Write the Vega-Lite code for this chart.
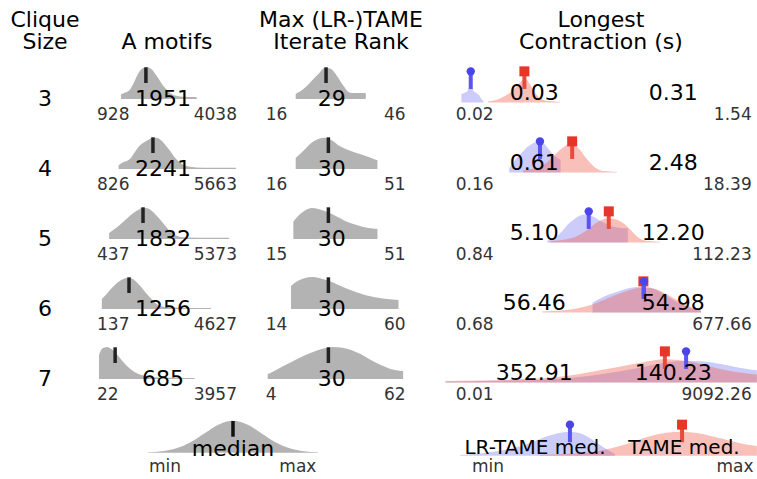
{
"$schema":"https://vega.github.io/schema/vega-lite/v6.json",
"padding":{"top":9,"left":0,"right":0,"bottom":0},
"background":"white",
"config":{"view":{"stroke":null},"font":"DejaVu Sans","title":{"font":"DejaVu Sans","fontSize":22,"fontWeight":"normal","color":"black","baseline":"bottom","lineHeight":22,"offset":10,"anchor":"middle"}},
"datasets":{
"sizes":[{"size":3},{"size":4},{"size":5},{"size":6},{"size":7}],
"motifs":[
{"size":3,"kind":"d","v":928,"d":0.15},{"size":3,"kind":"d","v":1100,"d":0.2},{"size":3,"kind":"d","v":1300,"d":0.3},{"size":3,"kind":"d","v":1450,"d":0.5},{"size":3,"kind":"d","v":1626,"d":0.78},{"size":3,"kind":"d","v":1800,"d":0.95},{"size":3,"kind":"d","v":1984,"d":1.0},{"size":3,"kind":"d","v":2150,"d":0.95},{"size":3,"kind":"d","v":2325,"d":0.8},{"size":3,"kind":"d","v":2500,"d":0.6},{"size":3,"kind":"d","v":2654,"d":0.42},{"size":3,"kind":"d","v":2830,"d":0.27},{"size":3,"kind":"d","v":3012,"d":0.16},{"size":3,"kind":"d","v":3200,"d":0.1},{"size":3,"kind":"d","v":3500,"d":0.07},{"size":3,"kind":"d","v":4038,"d":0.06},
{"size":3,"kind":"s","med":1951,"medLabel":"1951","minLabel":"928","maxLabel":"4038"},
{"size":4,"kind":"d","v":826,"d":0.12},{"size":4,"kind":"d","v":1000,"d":0.2},{"size":4,"kind":"d","v":1296,"d":0.31},{"size":4,"kind":"d","v":1470,"d":0.5},{"size":4,"kind":"d","v":1638,"d":0.68},{"size":4,"kind":"d","v":1984,"d":0.88},{"size":4,"kind":"d","v":2255,"d":0.98},{"size":4,"kind":"d","v":2420,"d":0.97},{"size":4,"kind":"d","v":2601,"d":0.88},{"size":4,"kind":"d","v":2780,"d":0.72},{"size":4,"kind":"d","v":2942,"d":0.57},{"size":4,"kind":"d","v":3150,"d":0.35},{"size":4,"kind":"d","v":3354,"d":0.2},{"size":4,"kind":"d","v":3550,"d":0.11},{"size":4,"kind":"d","v":3765,"d":0.07},{"size":4,"kind":"d","v":4300,"d":0.04},{"size":4,"kind":"d","v":5000,"d":0.04},{"size":4,"kind":"d","v":5663,"d":0.04},
{"size":4,"kind":"s","med":2241,"medLabel":"2241","minLabel":"826","maxLabel":"5663"},
{"size":5,"kind":"d","v":437,"d":0.19},{"size":5,"kind":"d","v":749,"d":0.36},{"size":5,"kind":"d","v":1021,"d":0.54},{"size":5,"kind":"d","v":1296,"d":0.73},{"size":5,"kind":"d","v":1572,"d":0.88},{"size":5,"kind":"d","v":1844,"d":0.98},{"size":5,"kind":"d","v":2049,"d":0.95},{"size":5,"kind":"d","v":2220,"d":0.86},{"size":5,"kind":"d","v":2395,"d":0.73},{"size":5,"kind":"d","v":2600,"d":0.55},{"size":5,"kind":"d","v":2807,"d":0.36},{"size":5,"kind":"d","v":3000,"d":0.2},{"size":5,"kind":"d","v":3218,"d":0.1},{"size":5,"kind":"d","v":3600,"d":0.05},{"size":5,"kind":"d","v":4500,"d":0.04},{"size":5,"kind":"d","v":5373,"d":0.04},
{"size":5,"kind":"s","med":1832,"medLabel":"1832","minLabel":"437","maxLabel":"5373"},
{"size":6,"kind":"d","v":137,"d":0.31},{"size":6,"kind":"d","v":337,"d":0.47},{"size":6,"kind":"d","v":609,"d":0.7},{"size":6,"kind":"d","v":885,"d":0.88},{"size":6,"kind":"d","v":1160,"d":0.97},{"size":6,"kind":"d","v":1366,"d":0.95},{"size":6,"kind":"d","v":1540,"d":0.86},{"size":6,"kind":"d","v":1708,"d":0.73},{"size":6,"kind":"d","v":1900,"d":0.55},{"size":6,"kind":"d","v":2119,"d":0.36},{"size":6,"kind":"d","v":2300,"d":0.22},{"size":6,"kind":"d","v":2461,"d":0.12},{"size":6,"kind":"d","v":2800,"d":0.06},{"size":6,"kind":"d","v":3500,"d":0.04},{"size":6,"kind":"d","v":4627,"d":0.03},
{"size":6,"kind":"s","med":1256,"medLabel":"1256","minLabel":"137","maxLabel":"4627"},
{"size":7,"kind":"d","v":22,"d":0.75},{"size":7,"kind":"d","v":150,"d":0.95},{"size":7,"kind":"d","v":350,"d":1.0},{"size":7,"kind":"d","v":550,"d":0.93},{"size":7,"kind":"d","v":750,"d":0.78},{"size":7,"kind":"d","v":1000,"d":0.55},{"size":7,"kind":"d","v":1300,"d":0.32},{"size":7,"kind":"d","v":1600,"d":0.17},{"size":7,"kind":"d","v":2000,"d":0.08},{"size":7,"kind":"d","v":2500,"d":0.05},{"size":7,"kind":"d","v":3200,"d":0.04},{"size":7,"kind":"d","v":3957,"d":0.03},
{"size":7,"kind":"s","med":685,"medLabel":"685","minLabel":"22","maxLabel":"3957"}
],
"ranks":[
{"size":3,"kind":"d","v":16,"d":0.16},{"size":3,"kind":"d","v":19.3,"d":0.31},{"size":3,"kind":"d","v":22.9,"d":0.57},{"size":3,"kind":"d","v":25.7,"d":0.78},{"size":3,"kind":"d","v":28.6,"d":0.98},{"size":3,"kind":"d","v":30.8,"d":0.95},{"size":3,"kind":"d","v":33.6,"d":0.73},{"size":3,"kind":"d","v":36.4,"d":0.42},{"size":3,"kind":"d","v":38.5,"d":0.22},{"size":3,"kind":"d","v":40,"d":0.19},{"size":3,"kind":"d","v":43,"d":0.19},{"size":3,"kind":"d","v":46,"d":0.19},
{"size":3,"kind":"s","med":29,"medLabel":"29","minLabel":"16","maxLabel":"46"},
{"size":4,"kind":"d","v":16,"d":0.34},{"size":4,"kind":"d","v":19.3,"d":0.57},{"size":4,"kind":"d","v":22.9,"d":0.83},{"size":4,"kind":"d","v":25.7,"d":0.94},{"size":4,"kind":"d","v":28.6,"d":0.98},{"size":4,"kind":"d","v":31.4,"d":0.9},{"size":4,"kind":"d","v":35,"d":0.71},{"size":4,"kind":"d","v":39.3,"d":0.57},{"size":4,"kind":"d","v":43.5,"d":0.47},{"size":4,"kind":"d","v":47.8,"d":0.36},{"size":4,"kind":"d","v":51,"d":0.27},
{"size":4,"kind":"s","med":30,"medLabel":"30","minLabel":"16","maxLabel":"51"},
{"size":5,"kind":"d","v":15,"d":0.54},{"size":5,"kind":"d","v":17.9,"d":0.78},{"size":5,"kind":"d","v":20.7,"d":0.92},{"size":5,"kind":"d","v":22.9,"d":0.97},{"size":5,"kind":"d","v":25.7,"d":0.94},{"size":5,"kind":"d","v":30,"d":0.83},{"size":5,"kind":"d","v":34.2,"d":0.68},{"size":5,"kind":"d","v":38.5,"d":0.52},{"size":5,"kind":"d","v":42.8,"d":0.42},{"size":5,"kind":"d","v":47.1,"d":0.34},{"size":5,"kind":"d","v":51,"d":0.31},
{"size":5,"kind":"s","med":30,"medLabel":"30","minLabel":"15","maxLabel":"51"},
{"size":6,"kind":"d","v":14,"d":0.72},{"size":6,"kind":"d","v":17,"d":0.88},{"size":6,"kind":"d","v":20,"d":0.97},{"size":6,"kind":"d","v":23,"d":1.0},{"size":6,"kind":"d","v":26,"d":0.97},{"size":6,"kind":"d","v":30,"d":0.88},{"size":6,"kind":"d","v":34,"d":0.76},{"size":6,"kind":"d","v":38,"d":0.63},{"size":6,"kind":"d","v":42,"d":0.52},{"size":6,"kind":"d","v":46,"d":0.43},{"size":6,"kind":"d","v":50,"d":0.37},{"size":6,"kind":"d","v":55,"d":0.31},{"size":6,"kind":"d","v":60,"d":0.28},
{"size":6,"kind":"s","med":30,"medLabel":"30","minLabel":"14","maxLabel":"60"},
{"size":7,"kind":"d","v":4,"d":0.15},{"size":7,"kind":"d","v":8,"d":0.3},{"size":7,"kind":"d","v":12,"d":0.45},{"size":7,"kind":"d","v":16,"d":0.6},{"size":7,"kind":"d","v":20,"d":0.74},{"size":7,"kind":"d","v":24,"d":0.86},{"size":7,"kind":"d","v":28,"d":0.95},{"size":7,"kind":"d","v":32,"d":1.0},{"size":7,"kind":"d","v":36,"d":0.98},{"size":7,"kind":"d","v":40,"d":0.9},{"size":7,"kind":"d","v":44,"d":0.77},{"size":7,"kind":"d","v":48,"d":0.6},{"size":7,"kind":"d","v":52,"d":0.45},{"size":7,"kind":"d","v":56,"d":0.33},{"size":7,"kind":"d","v":62,"d":0.25},
{"size":7,"kind":"s","med":30,"medLabel":"30","minLabel":"4","maxLabel":"62"}
],
"contr":[
{"size":3,"kind":"d","alg":"L","v":0.02,"d":0.26},{"size":3,"kind":"d","alg":"L","v":0.023,"d":0.3},{"size":3,"kind":"d","alg":"L","v":0.026,"d":0.36},{"size":3,"kind":"d","alg":"L","v":0.028,"d":0.5},{"size":3,"kind":"d","alg":"L","v":0.03,"d":0.62},{"size":3,"kind":"d","alg":"L","v":0.032,"d":0.5},{"size":3,"kind":"d","alg":"L","v":0.034,"d":0.36},{"size":3,"kind":"d","alg":"L","v":0.038,"d":0.3},{"size":3,"kind":"d","alg":"L","v":0.043,"d":0.22},{"size":3,"kind":"d","alg":"L","v":0.048,"d":0.1},{"size":3,"kind":"d","alg":"L","v":0.053,"d":0.02},
{"size":3,"kind":"d","alg":"T","v":0.063,"d":0.03},{"size":3,"kind":"d","alg":"T","v":0.086,"d":0.07},{"size":3,"kind":"d","alg":"T","v":0.107,"d":0.12},{"size":3,"kind":"d","alg":"T","v":0.133,"d":0.2},{"size":3,"kind":"d","alg":"T","v":0.166,"d":0.3},{"size":3,"kind":"d","alg":"T","v":0.206,"d":0.45},{"size":3,"kind":"d","alg":"T","v":0.256,"d":0.62},{"size":3,"kind":"d","alg":"T","v":0.3,"d":0.72},{"size":3,"kind":"d","alg":"T","v":0.33,"d":0.72},{"size":3,"kind":"d","alg":"T","v":0.4,"d":0.55},{"size":3,"kind":"d","alg":"T","v":0.49,"d":0.3},{"size":3,"kind":"d","alg":"T","v":0.61,"d":0.14},{"size":3,"kind":"d","alg":"T","v":0.76,"d":0.06},{"size":3,"kind":"d","alg":"T","v":0.95,"d":0.04},{"size":3,"kind":"d","alg":"T","v":1.2,"d":0.03},{"size":3,"kind":"d","alg":"T","v":1.46,"d":0.02},
{"size":3,"kind":"s","lr":0.03,"tame":0.31,"lrLabel":"0.03","tameLabel":"0.31","minLabel":"0.02","maxLabel":"1.54"},
{"size":4,"kind":"d","alg":"L","v":0.16,"d":0.12},{"size":4,"kind":"d","alg":"L","v":0.19,"d":0.3},{"size":4,"kind":"d","alg":"L","v":0.22,"d":0.45},{"size":4,"kind":"d","alg":"L","v":0.28,"d":0.62},{"size":4,"kind":"d","alg":"L","v":0.34,"d":0.78},{"size":4,"kind":"d","alg":"L","v":0.4,"d":0.86},{"size":4,"kind":"d","alg":"L","v":0.5,"d":0.94},{"size":4,"kind":"d","alg":"L","v":0.61,"d":0.96},{"size":4,"kind":"d","alg":"L","v":0.72,"d":0.9},{"size":4,"kind":"d","alg":"L","v":0.87,"d":0.75},{"size":4,"kind":"d","alg":"L","v":1.1,"d":0.55},{"size":4,"kind":"d","alg":"L","v":1.3,"d":0.45},{"size":4,"kind":"d","alg":"L","v":1.5,"d":0.4},
{"size":4,"kind":"d","alg":"T","v":0.29,"d":0.06},{"size":4,"kind":"d","alg":"T","v":0.4,"d":0.1},{"size":4,"kind":"d","alg":"T","v":0.5,"d":0.13},{"size":4,"kind":"d","alg":"T","v":0.61,"d":0.18},{"size":4,"kind":"d","alg":"T","v":0.76,"d":0.27},{"size":4,"kind":"d","alg":"T","v":0.95,"d":0.4},{"size":4,"kind":"d","alg":"T","v":1.17,"d":0.55},{"size":4,"kind":"d","alg":"T","v":1.46,"d":0.7},{"size":4,"kind":"d","alg":"T","v":1.8,"d":0.82},{"size":4,"kind":"d","alg":"T","v":2.25,"d":0.88},{"size":4,"kind":"d","alg":"T","v":2.5,"d":0.88},{"size":4,"kind":"d","alg":"T","v":2.8,"d":0.84},{"size":4,"kind":"d","alg":"T","v":3.5,"d":0.7},{"size":4,"kind":"d","alg":"T","v":4.3,"d":0.5},{"size":4,"kind":"d","alg":"T","v":5.4,"d":0.3},{"size":4,"kind":"d","alg":"T","v":6.7,"d":0.15},{"size":4,"kind":"d","alg":"T","v":8.3,"d":0.07},{"size":4,"kind":"d","alg":"T","v":10.4,"d":0.04},{"size":4,"kind":"d","alg":"T","v":13,"d":0.03},{"size":4,"kind":"d","alg":"T","v":17.2,"d":0.02},
{"size":4,"kind":"s","lr":0.61,"tame":2.48,"lrLabel":"0.61","tameLabel":"2.48","minLabel":"0.16","maxLabel":"18.39"},
{"size":5,"kind":"d","alg":"L","v":0.84,"d":0.05},{"size":5,"kind":"d","alg":"L","v":1.1,"d":0.12},{"size":5,"kind":"d","alg":"L","v":1.5,"d":0.3},{"size":5,"kind":"d","alg":"L","v":1.8,"d":0.45},{"size":5,"kind":"d","alg":"L","v":2.25,"d":0.62},{"size":5,"kind":"d","alg":"L","v":2.8,"d":0.75},{"size":5,"kind":"d","alg":"L","v":3.5,"d":0.84},{"size":5,"kind":"d","alg":"L","v":4.3,"d":0.87},{"size":5,"kind":"d","alg":"L","v":5.4,"d":0.85},{"size":5,"kind":"d","alg":"L","v":6.7,"d":0.78},{"size":5,"kind":"d","alg":"L","v":8.3,"d":0.68},{"size":5,"kind":"d","alg":"L","v":10.4,"d":0.6},{"size":5,"kind":"d","alg":"L","v":13,"d":0.52},{"size":5,"kind":"d","alg":"L","v":16,"d":0.48},{"size":5,"kind":"d","alg":"L","v":20,"d":0.45},{"size":5,"kind":"d","alg":"L","v":28,"d":0.44},
{"size":5,"kind":"d","alg":"T","v":0.95,"d":0.04},{"size":5,"kind":"d","alg":"T","v":1.5,"d":0.07},{"size":5,"kind":"d","alg":"T","v":2.25,"d":0.12},{"size":5,"kind":"d","alg":"T","v":3.5,"d":0.25},{"size":5,"kind":"d","alg":"T","v":5.4,"d":0.45},{"size":5,"kind":"d","alg":"T","v":6.7,"d":0.58},{"size":5,"kind":"d","alg":"T","v":8.3,"d":0.68},{"size":5,"kind":"d","alg":"T","v":10.4,"d":0.74},{"size":5,"kind":"d","alg":"T","v":12.9,"d":0.75},{"size":5,"kind":"d","alg":"T","v":16,"d":0.72},{"size":5,"kind":"d","alg":"T","v":20,"d":0.66},{"size":5,"kind":"d","alg":"T","v":25,"d":0.55},{"size":5,"kind":"d","alg":"T","v":31,"d":0.4},{"size":5,"kind":"d","alg":"T","v":38,"d":0.25},{"size":5,"kind":"d","alg":"T","v":47,"d":0.12},{"size":5,"kind":"d","alg":"T","v":59,"d":0.06},{"size":5,"kind":"d","alg":"T","v":73,"d":0.04},{"size":5,"kind":"d","alg":"T","v":91,"d":0.03},{"size":5,"kind":"d","alg":"T","v":112,"d":0.02},
{"size":5,"kind":"s","lr":5.10,"tame":12.20,"lrLabel":"5.10","tameLabel":"12.20","minLabel":"0.84","maxLabel":"112.23"},
{"size":6,"kind":"d","alg":"L","v":6,"d":0.3},{"size":6,"kind":"d","alg":"L","v":8,"d":0.42},{"size":6,"kind":"d","alg":"L","v":12,"d":0.55},{"size":6,"kind":"d","alg":"L","v":20,"d":0.68},{"size":6,"kind":"d","alg":"L","v":30,"d":0.76},{"size":6,"kind":"d","alg":"L","v":47,"d":0.8},{"size":6,"kind":"d","alg":"L","v":60,"d":0.8},{"size":6,"kind":"d","alg":"L","v":90,"d":0.72},{"size":6,"kind":"d","alg":"L","v":140,"d":0.55},{"size":6,"kind":"d","alg":"L","v":220,"d":0.35},{"size":6,"kind":"d","alg":"L","v":340,"d":0.2},{"size":6,"kind":"d","alg":"L","v":520,"d":0.1},{"size":6,"kind":"d","alg":"L","v":677,"d":0.05},
{"size":6,"kind":"d","alg":"T","v":0.68,"d":0.03},{"size":6,"kind":"d","alg":"T","v":1.5,"d":0.06},{"size":6,"kind":"d","alg":"T","v":3,"d":0.12},{"size":6,"kind":"d","alg":"T","v":6,"d":0.25},{"size":6,"kind":"d","alg":"T","v":12,"d":0.45},{"size":6,"kind":"d","alg":"T","v":25,"d":0.65},{"size":6,"kind":"d","alg":"T","v":47,"d":0.76},{"size":6,"kind":"d","alg":"T","v":75,"d":0.76},{"size":6,"kind":"d","alg":"T","v":140,"d":0.6},{"size":6,"kind":"d","alg":"T","v":220,"d":0.42},{"size":6,"kind":"d","alg":"T","v":340,"d":0.25},{"size":6,"kind":"d","alg":"T","v":520,"d":0.12},{"size":6,"kind":"d","alg":"T","v":677,"d":0.06},
{"size":6,"kind":"s","lr":56.46,"tame":54.98,"lrLabel":"56.46","tameLabel":"54.98","minLabel":"0.68","maxLabel":"677.66"},
{"size":7,"kind":"d","alg":"L","v":0.01,"d":0.03},{"size":7,"kind":"d","alg":"L","v":0.1,"d":0.05},{"size":7,"kind":"d","alg":"L","v":1,"d":0.1},{"size":7,"kind":"d","alg":"L","v":5,"d":0.2},{"size":7,"kind":"d","alg":"L","v":20,"d":0.35},{"size":7,"kind":"d","alg":"L","v":60,"d":0.5},{"size":7,"kind":"d","alg":"L","v":150,"d":0.62},{"size":7,"kind":"d","alg":"L","v":350,"d":0.68},{"size":7,"kind":"d","alg":"L","v":700,"d":0.66},{"size":7,"kind":"d","alg":"L","v":1500,"d":0.58},{"size":7,"kind":"d","alg":"L","v":3000,"d":0.48},{"size":7,"kind":"d","alg":"L","v":5000,"d":0.42},{"size":7,"kind":"d","alg":"L","v":7700,"d":0.38},
{"size":7,"kind":"d","alg":"T","v":0.01,"d":0.04},{"size":7,"kind":"d","alg":"T","v":0.05,"d":0.06},{"size":7,"kind":"d","alg":"T","v":0.2,"d":0.09},{"size":7,"kind":"d","alg":"T","v":1,"d":0.15},{"size":7,"kind":"d","alg":"T","v":3,"d":0.25},{"size":7,"kind":"d","alg":"T","v":10,"d":0.4},{"size":7,"kind":"d","alg":"T","v":30,"d":0.55},{"size":7,"kind":"d","alg":"T","v":80,"d":0.68},{"size":7,"kind":"d","alg":"T","v":140,"d":0.72},{"size":7,"kind":"d","alg":"T","v":250,"d":0.7},{"size":7,"kind":"d","alg":"T","v":500,"d":0.62},{"size":7,"kind":"d","alg":"T","v":1000,"d":0.5},{"size":7,"kind":"d","alg":"T","v":2000,"d":0.38},{"size":7,"kind":"d","alg":"T","v":4000,"d":0.3},{"size":7,"kind":"d","alg":"T","v":7700,"d":0.25},
{"size":7,"kind":"s","lr":352.91,"tame":140.23,"lrLabel":"352.91","tameLabel":"140.23","minLabel":"0.01","maxLabel":"9092.26"}
],
"legA":[
{"kind":"d","z":-3,"d":0.011},{"kind":"d","z":-2.5,"d":0.044},{"kind":"d","z":-2,"d":0.135},{"kind":"d","z":-1.5,"d":0.325},{"kind":"d","z":-1,"d":0.607},{"kind":"d","z":-0.5,"d":0.882},{"kind":"d","z":0,"d":1.0},{"kind":"d","z":0.5,"d":0.882},{"kind":"d","z":1,"d":0.607},{"kind":"d","z":1.5,"d":0.325},{"kind":"d","z":2,"d":0.135},{"kind":"d","z":2.5,"d":0.044},{"kind":"d","z":3,"d":0.011},
{"kind":"s","med":0}
],
"legB":[
{"kind":"d","alg":"L","v":0.019,"d":0.02},{"kind":"d","alg":"L","v":0.05,"d":0.08},{"kind":"d","alg":"L","v":0.15,"d":0.2},{"kind":"d","alg":"L","v":0.4,"d":0.4},{"kind":"d","alg":"L","v":0.8,"d":0.6},{"kind":"d","alg":"L","v":1.5,"d":0.72},{"kind":"d","alg":"L","v":2.25,"d":0.75},{"kind":"d","alg":"L","v":3.5,"d":0.7},{"kind":"d","alg":"L","v":6,"d":0.5},{"kind":"d","alg":"L","v":10,"d":0.25},{"kind":"d","alg":"L","v":16,"d":0.05},
{"kind":"d","alg":"T","v":0.6,"d":0.02},{"kind":"d","alg":"T","v":2,"d":0.06},{"kind":"d","alg":"T","v":8,"d":0.15},{"kind":"d","alg":"T","v":25,"d":0.35},{"kind":"d","alg":"T","v":70,"d":0.6},{"kind":"d","alg":"T","v":150,"d":0.72},{"kind":"d","alg":"T","v":296,"d":0.75},{"kind":"d","alg":"T","v":600,"d":0.7},{"kind":"d","alg":"T","v":1500,"d":0.55},{"kind":"d","alg":"T","v":3500,"d":0.4},{"kind":"d","alg":"T","v":7700,"d":0.3},
{"kind":"s","lr":2.25,"tame":296}
]
},
"vconcat":[
{"hconcat":[
 {"data":{"name":"sizes"},"title":{"text":["Clique","Size"],"dx":-3.5},
  "facet":{"row":{"field":"size","type":"ordinal","header":null}},"spacing":0,
  "spec":{"width":97,"height":70,"mark":{"type":"text","fontSize":22,"baseline":"middle","dx":-3.5,"color":"black"},"encoding":{"text":{"field":"size","type":"nominal"}}}},
 {"data":{"name":"motifs"},"title":{"text":"A motifs"},
  "facet":{"row":{"field":"size","type":"ordinal","header":null}},"spacing":0,
  "spec":{"width":140,"height":70,"resolve":{"scale":{"x":"independent"}},
   "layer":[
    {"transform":[{"filter":"datum.kind == 'd'"}],"mark":{"type":"area","color":"#b3b3b3","opacity":1,"interpolate":"monotone"},
     "encoding":{"x":{"field":"v","type":"quantitative","scale":{"domain":[-61.7,5700],"nice":false,"zero":false},"axis":null},
      "y":{"field":"d","type":"quantitative","stack":null,"scale":{"domain":[-1.09375,1.09375],"nice":false,"zero":false},"axis":null}}},
    {"transform":[{"filter":"datum.kind == 's'"}],"mark":{"type":"rule","color":"#222222","strokeWidth":3.5},
     "encoding":{"x":{"field":"med","type":"quantitative","scale":{"domain":[-61.7,5700],"nice":false,"zero":false},"axis":null},
      "y":{"datum":0.5,"type":"quantitative"},"y2":{"datum":0.99}}},
    {"transform":[{"filter":"datum.kind == 's'"}],"mark":{"type":"text","fontSize":22,"baseline":"middle","align":"center","dx":-4,"color":"black"},
     "encoding":{"x":{"datum":"med","type":"nominal","scale":{"type":"point","domain":["min","med","max"],"padding":0},"axis":null},"text":{"field":"medLabel","type":"nominal"}}},
    {"transform":[{"filter":"datum.kind == 's'"}],"mark":{"type":"text","fontSize":17,"baseline":"middle","align":"left","dy":15.5,"color":"#333333"},
     "encoding":{"x":{"datum":"min","type":"nominal","scale":{"type":"point","domain":["min","med","max"],"padding":0},"axis":null},"text":{"field":"minLabel","type":"nominal"}}},
    {"transform":[{"filter":"datum.kind == 's'"}],"mark":{"type":"text","fontSize":17,"baseline":"middle","align":"right","dy":15.5,"color":"#333333"},
     "encoding":{"x":{"datum":"max","type":"nominal","scale":{"type":"point","domain":["min","med","max"],"padding":0},"axis":null},"text":{"field":"maxLabel","type":"nominal"}}}
   ]}},
 {"data":{"name":"ranks"},"title":{"text":["Max (LR-)TAME","Iterate Rank"]},
  "facet":{"row":{"field":"size","type":"ordinal","header":null}},"spacing":0,
  "spec":{"width":208,"height":70,"resolve":{"scale":{"x":"independent"}},
   "layer":[
    {"transform":[{"filter":"datum.kind == 'd'"}],"mark":{"type":"area","color":"#b3b3b3","opacity":1,"interpolate":"monotone"},
     "encoding":{"x":{"field":"v","type":"quantitative","scale":{"domain":[-9.12,79.92],"nice":false,"zero":false},"axis":null},
      "y":{"field":"d","type":"quantitative","stack":null,"scale":{"domain":[-1.09375,1.09375],"nice":false,"zero":false},"axis":null}}},
    {"transform":[{"filter":"datum.kind == 's'"}],"mark":{"type":"rule","color":"#222222","strokeWidth":3.5},
     "encoding":{"x":{"field":"med","type":"quantitative","scale":{"domain":[-9.12,79.92],"nice":false,"zero":false},"axis":null},
      "y":{"datum":0.5,"type":"quantitative"},"y2":{"datum":0.99}}},
    {"transform":[{"filter":"datum.kind == 's'"}],"mark":{"type":"text","fontSize":22,"baseline":"middle","align":"center","dx":-4,"color":"black"},
     "encoding":{"x":{"datum":"med","type":"nominal","scale":{"type":"point","domain":["min","med","max"],"padding":0.486,"align":0.422},"axis":null},"text":{"field":"medLabel","type":"nominal"}}},
    {"transform":[{"filter":"datum.kind == 's'"}],"mark":{"type":"text","fontSize":17,"baseline":"middle","align":"left","dy":15.5,"color":"#333333"},
     "encoding":{"x":{"datum":"min","type":"nominal","scale":{"type":"point","domain":["min","med","max"],"padding":0.486,"align":0.422},"axis":null},"text":{"field":"minLabel","type":"nominal"}}},
    {"transform":[{"filter":"datum.kind == 's'"}],"mark":{"type":"text","fontSize":17,"baseline":"middle","align":"right","dy":15.5,"color":"#333333"},
     "encoding":{"x":{"datum":"max","type":"nominal","scale":{"type":"point","domain":["min","med","max"],"padding":0.486,"align":0.422},"axis":null},"text":{"field":"maxLabel","type":"nominal"}}}
   ]}},
 {"data":{"name":"contr"},"title":{"text":["Longest","Contraction (s)"]},
  "facet":{"row":{"field":"size","type":"ordinal","header":null}},"spacing":0,
  "spec":{"width":312,"height":70,"resolve":{"scale":{"x":"independent"}},
   "layer":[
    {"transform":[{"filter":"datum.kind == 'd' && datum.alg == 'L'"}],"mark":{"type":"area","color":"#6060f0","opacity":0.32,"interpolate":"monotone"},
     "encoding":{"x":{"field":"v","type":"quantitative","scale":{"type":"log","domain":[0.009785,7727],"nice":false},"axis":null},
      "y":{"field":"d","type":"quantitative","stack":null,"scale":{"domain":[-0.9875,1.2],"nice":false,"zero":false},"axis":null}}},
    {"transform":[{"filter":"datum.kind == 'd' && datum.alg == 'T'"}],"mark":{"type":"area","color":"#ee5a48","opacity":0.38,"interpolate":"monotone"},
     "encoding":{"x":{"field":"v","type":"quantitative","scale":{"type":"log","domain":[0.009785,7727],"nice":false},"axis":null},
      "y":{"field":"d","type":"quantitative","stack":null,"axis":null}}},
    {"transform":[{"filter":"datum.kind == 's'"}],"mark":{"type":"rule","color":"#ea4a3c","strokeWidth":4},
     "encoding":{"x":{"field":"tame","type":"quantitative","scale":{"type":"log","domain":[0.009785,7727],"nice":false},"axis":null},
      "y":{"datum":0.42,"type":"quantitative"},"y2":{"datum":0.97}}},
    {"transform":[{"filter":"datum.kind == 's'"}],"mark":{"type":"point","shape":"square","filled":true,"size":100,"opacity":1,"color":"#e8352a"},
     "encoding":{"x":{"field":"tame","type":"quantitative","scale":{"type":"log","domain":[0.009785,7727],"nice":false},"axis":null},
      "y":{"datum":0.97,"type":"quantitative"}}},
    {"transform":[{"filter":"datum.kind == 's'"}],"mark":{"type":"rule","color":"#5a55ee","strokeWidth":4},
     "encoding":{"x":{"field":"lr","type":"quantitative","scale":{"type":"log","domain":[0.009785,7727],"nice":false},"axis":null},
      "y":{"datum":0.42,"type":"quantitative"},"y2":{"datum":0.97}}},
    {"transform":[{"filter":"datum.kind == 's'"}],"mark":{"type":"point","shape":"circle","filled":true,"size":70,"opacity":1,"color":"#4b44e8"},
     "encoding":{"x":{"field":"lr","type":"quantitative","scale":{"type":"log","domain":[0.009785,7727],"nice":false},"axis":null},
      "y":{"datum":0.97,"type":"quantitative"}}},
    {"transform":[{"filter":"datum.kind == 's'"}],"mark":{"type":"text","fontSize":22,"baseline":"middle","align":"center","dy":-6.3,"color":"black"},
     "encoding":{"x":{"datum":"lr","type":"nominal","scale":{"type":"point","domain":["lr","tame"],"padding":0.6223,"align":0.5156},"axis":null},"text":{"field":"lrLabel","type":"nominal"}}},
    {"transform":[{"filter":"datum.kind == 's'"}],"mark":{"type":"text","fontSize":22,"baseline":"middle","align":"center","dy":-6.3,"color":"black"},
     "encoding":{"x":{"datum":"tame","type":"nominal","scale":{"type":"point","domain":["lr","tame"],"padding":0.6223,"align":0.5156},"axis":null},"text":{"field":"tameLabel","type":"nominal"}}},
    {"transform":[{"filter":"datum.kind == 's'"}],"mark":{"type":"text","fontSize":17,"baseline":"middle","align":"left","dy":15.5,"color":"#333333"},
     "encoding":{"x":{"datum":"min","type":"nominal","scale":{"type":"point","domain":["min","max"],"padding":0.027,"align":0.669},"axis":null},"text":{"field":"minLabel","type":"nominal"}}},
    {"transform":[{"filter":"datum.kind == 's'"}],"mark":{"type":"text","fontSize":17,"baseline":"middle","align":"right","dy":15.5,"color":"#333333"},
     "encoding":{"x":{"datum":"max","type":"nominal","scale":{"type":"point","domain":["min","max"],"padding":0.027,"align":0.669},"axis":null},"text":{"field":"maxLabel","type":"nominal"}}}
   ]}}
],"spacing":0},
{"hconcat":[
 {"data":{"name":"legA"},"width":445,"height":60,
  "layer":[
   {"transform":[{"filter":"datum.kind == 'd'"}],"mark":{"type":"area","color":"#b3b3b3","opacity":1,"interpolate":"monotone"},
    "encoding":{"x":{"field":"z","type":"quantitative","scale":{"domain":[-8.224,7.483],"nice":false,"zero":false},"axis":null},
     "y":{"field":"d","type":"quantitative","stack":null,"scale":{"domain":[-0.666,1.209],"nice":false,"zero":false},"axis":null}}},
   {"transform":[{"filter":"datum.kind == 's'"}],"mark":{"type":"rule","color":"#111111","strokeWidth":3.5},
    "encoding":{"x":{"field":"med","type":"quantitative"},
     "y":{"datum":0.5,"type":"quantitative"},"y2":{"datum":0.99}}},
   {"transform":[{"filter":"datum.kind == 's'"}],"mark":{"type":"text","fontSize":22,"baseline":"middle","align":"center","dy":4.7,"color":"black"},
    "encoding":{"x":{"datum":0,"type":"quantitative"},"text":{"value":"median"}}},
   {"transform":[{"filter":"datum.kind == 's'"}],"mark":{"type":"text","fontSize":17,"baseline":"middle","align":"center","dy":22.7,"color":"#333333"},
    "encoding":{"x":{"datum":-2.4,"type":"quantitative"},"text":{"value":"min"}}},
   {"transform":[{"filter":"datum.kind == 's'"}],"mark":{"type":"text","fontSize":17,"baseline":"middle","align":"center","dy":22.7,"color":"#333333"},
    "encoding":{"x":{"datum":2.29,"type":"quantitative"},"text":{"value":"max"}}}
  ]},
 {"data":{"name":"legB"},"width":312,"height":60,"resolve":{"scale":{"x":"independent"}},
  "layer":[
   {"transform":[{"filter":"datum.kind == 'd' && datum.alg == 'L'"}],"mark":{"type":"area","color":"#6060f0","opacity":0.32,"interpolate":"monotone"},
    "encoding":{"x":{"field":"v","type":"quantitative","scale":{"type":"log","domain":[0.009785,7727],"nice":false},"axis":null},
     "y":{"field":"d","type":"quantitative","stack":null,"scale":{"domain":[-0.572,1.303],"nice":false,"zero":false},"axis":null}}},
   {"transform":[{"filter":"datum.kind == 'd' && datum.alg == 'T'"}],"mark":{"type":"area","color":"#ee5a48","opacity":0.38,"interpolate":"monotone"},
    "encoding":{"x":{"field":"v","type":"quantitative","scale":{"type":"log","domain":[0.009785,7727],"nice":false},"axis":null},
     "y":{"field":"d","type":"quantitative","stack":null,"axis":null}}},
   {"transform":[{"filter":"datum.kind == 's'"}],"mark":{"type":"rule","color":"#5a55ee","strokeWidth":4},
    "encoding":{"x":{"field":"lr","type":"quantitative","scale":{"type":"log","domain":[0.009785,7727],"nice":false},"axis":null},
     "y":{"datum":0.42,"type":"quantitative"},"y2":{"datum":0.97}}},
   {"transform":[{"filter":"datum.kind == 's'"}],"mark":{"type":"point","shape":"circle","filled":true,"size":70,"opacity":1,"color":"#4b44e8"},
    "encoding":{"x":{"field":"lr","type":"quantitative","scale":{"type":"log","domain":[0.009785,7727],"nice":false},"axis":null},
     "y":{"datum":0.97,"type":"quantitative"}}},
   {"transform":[{"filter":"datum.kind == 's'"}],"mark":{"type":"rule","color":"#ea4a3c","strokeWidth":4},
    "encoding":{"x":{"field":"tame","type":"quantitative","scale":{"type":"log","domain":[0.009785,7727],"nice":false},"axis":null},
     "y":{"datum":0.42,"type":"quantitative"},"y2":{"datum":0.97}}},
   {"transform":[{"filter":"datum.kind == 's'"}],"mark":{"type":"point","shape":"square","filled":true,"size":100,"opacity":1,"color":"#e8352a"},
    "encoding":{"x":{"field":"tame","type":"quantitative","scale":{"type":"log","domain":[0.009785,7727],"nice":false},"axis":null},
     "y":{"datum":0.97,"type":"quantitative"}}},
   {"transform":[{"filter":"datum.kind == 's'"}],"mark":{"type":"text","fontSize":20,"baseline":"middle","align":"center","dy":3.7,"color":"black"},
    "encoding":{"x":{"datum":"lr","type":"nominal","scale":{"type":"point","domain":["lr","tame"],"padding":0.547,"align":0.552},"axis":null},"text":{"value":"LR-TAME med."}}},
   {"transform":[{"filter":"datum.kind == 's'"}],"mark":{"type":"text","fontSize":20,"baseline":"middle","align":"center","dy":3.7,"color":"black"},
    "encoding":{"x":{"datum":"tame","type":"nominal","scale":{"type":"point","domain":["lr","tame"],"padding":0.547,"align":0.552},"axis":null},"text":{"value":"TAME med."}}},
   {"transform":[{"filter":"datum.kind == 's'"}],"mark":{"type":"text","fontSize":17,"baseline":"middle","align":"center","dy":22.7,"color":"#333333"},
    "encoding":{"x":{"datum":"min","type":"nominal","scale":{"type":"point","domain":["min","max"],"padding":0.1316,"align":0.6615},"axis":null},"text":{"value":"min"}}},
   {"transform":[{"filter":"datum.kind == 's'"}],"mark":{"type":"text","fontSize":17,"baseline":"middle","align":"center","dy":22.7,"color":"#333333"},
    "encoding":{"x":{"datum":"max","type":"nominal","scale":{"type":"point","domain":["min","max"],"padding":0.1316,"align":0.6615},"axis":null},"text":{"value":"max"}}}
  ]}
],"spacing":0}
],
"spacing":0
}
